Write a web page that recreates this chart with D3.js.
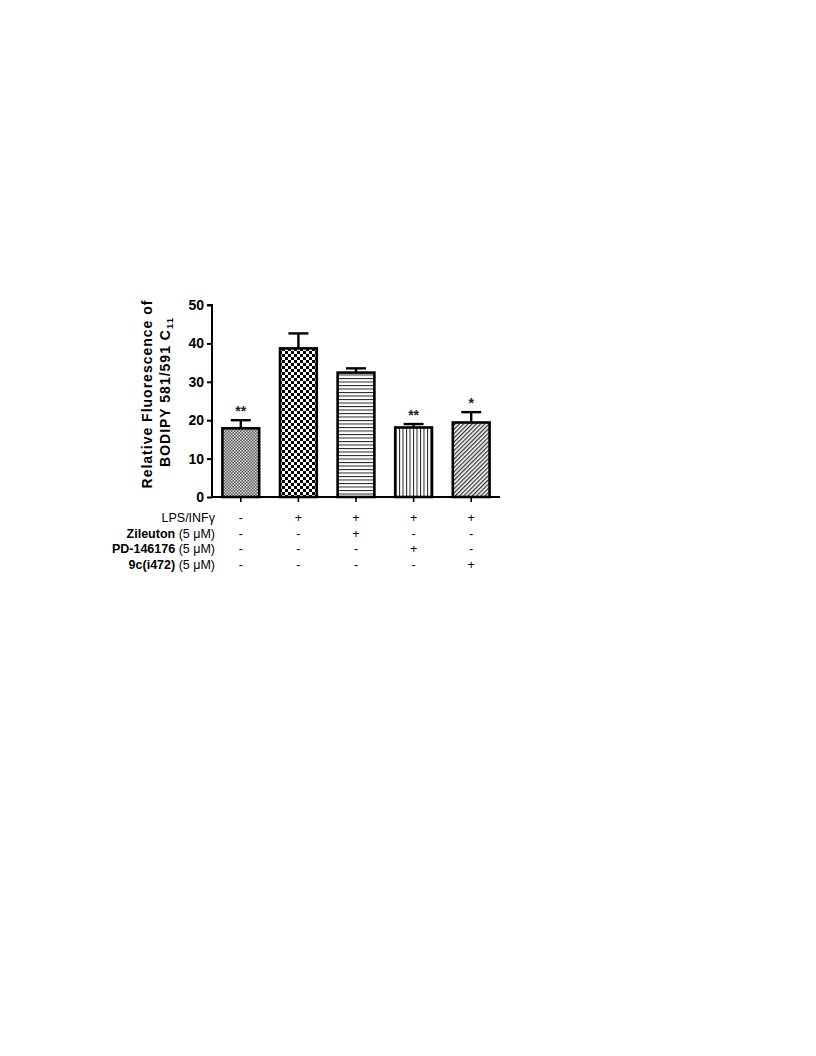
<!DOCTYPE html>
<html><head><meta charset="utf-8">
<script src="https://cdn.jsdelivr.net/npm/d3@7"></script>
<style>body{margin:0;background:#fff}svg{display:block}</style>
</head><body>
<script>
const groups = ["g1","g2","g3","g4","g5"];
const means = [17.9, 38.7, 32.4, 18.1, 19.4];
const errors = [2.1, 3.9, 1.1, 0.9, 2.7];
const stars = ["**", "", "", "**", "*"];
const yTicks = [0, 10, 20, 30, 40, 50];
const rowLabels = [
  {bold:"", normal:"LPS/INFγ"},
  {bold:"Zileuton", normal:" (5 μM)"},
  {bold:"PD-146176", normal:" (5 μM)"},
  {bold:"9c(i472)", normal:" (5 μM)"}
];
const signs = [
  ["-","+","+","+","+"],
  ["-","-","+","-","-"],
  ["-","-","-","+","-"],
  ["-","-","-","-","+"]
];
const patternIds = ["pFineCheck","pCheck","pHoriz","pVert","pDiag"];
const FONT = "Liberation Sans, Arial, sans-serif";

const svg = d3.select("body").append("svg").attr("width",816).attr("height",1056);
const defs = svg.append("defs");
let p = defs.append("pattern").attr("id","pFineCheck").attr("patternUnits","userSpaceOnUse").attr("width",3).attr("height",3);
p.append("rect").attr("width",3).attr("height",3).attr("fill","#555");
p.append("rect").attr("width",1.5).attr("height",1.5).attr("fill","#ddd");
p.append("rect").attr("x",1.5).attr("y",1.5).attr("width",1.5).attr("height",1.5).attr("fill","#ddd");
p = defs.append("pattern").attr("id","pCheck").attr("patternUnits","userSpaceOnUse").attr("width",6).attr("height",6);
p.append("rect").attr("width",6).attr("height",6).attr("fill","#fff");
p.append("rect").attr("width",3).attr("height",3).attr("fill","#000");
p.append("rect").attr("x",3).attr("y",3).attr("width",3).attr("height",3).attr("fill","#000");
p = defs.append("pattern").attr("id","pHoriz").attr("patternUnits","userSpaceOnUse").attr("width",4).attr("height",3.5);
p.append("rect").attr("width",4).attr("height",3.5).attr("fill","#fff");
p.append("rect").attr("width",4).attr("height",1).attr("fill","#222");
p = defs.append("pattern").attr("id","pVert").attr("patternUnits","userSpaceOnUse").attr("width",3.5).attr("height",4);
p.append("rect").attr("width",3.5).attr("height",4).attr("fill","#fff");
p.append("rect").attr("width",1).attr("height",4).attr("fill","#222");
p = defs.append("pattern").attr("id","pDiag").attr("patternUnits","userSpaceOnUse").attr("width",3).attr("height",3).attr("patternTransform","rotate(45)");
p.append("rect").attr("width",3).attr("height",3).attr("fill","#fff");
p.append("rect").attr("width",1.3).attr("height",3).attr("fill","#333");

const x = d3.scaleBand().domain(groups).range([212,500]).paddingInner(0.32).paddingOuter(0.16);
const y = d3.scaleLinear().domain([0,50]).range([497,305]);

const g = svg.append("g");
g.selectAll("rect.bar").data(groups).join("rect")
  .attr("x",d=>x(d)+1.2).attr("width",x.bandwidth()-2.4)
  .attr("y",(d,i)=>y(means[i])).attr("height",(d,i)=>y(0)-y(means[i]))
  .attr("fill",(d,i)=>`url(#${patternIds[i]})`).attr("stroke","#000").attr("stroke-width",2.6);
groups.forEach((d,i)=>{
  const cx = x(d)+x.bandwidth()/2;
  g.append("line").attr("x1",cx).attr("x2",cx).attr("y1",y(means[i])).attr("y2",y(means[i]+errors[i])).attr("stroke","#000").attr("stroke-width",2.4);
  g.append("line").attr("x1",cx-10).attr("x2",cx+10).attr("y1",y(means[i]+errors[i])).attr("y2",y(means[i]+errors[i])).attr("stroke","#000").attr("stroke-width",2.4);
  if(stars[i]) g.append("text").attr("x",cx).attr("y",y(means[i]+errors[i])-4).attr("text-anchor","middle")
    .attr("font-family",FONT).attr("font-size",14).attr("font-weight","bold").attr("fill","#222").text(stars[i]);
});

const yAxis = svg.append("g").attr("transform","translate(212,0)")
  .call(d3.axisLeft(y).tickValues(yTicks).tickSize(5).tickPadding(3));
yAxis.select(".domain").attr("stroke","#000").attr("stroke-width",2).attr("d","M-5,305H0V497");
yAxis.selectAll(".tick line").attr("stroke","#000").attr("stroke-width",2);
yAxis.selectAll("text").attr("font-family",FONT).attr("font-size",14).attr("font-weight","bold").attr("fill","#000");

const xAxis = svg.append("g").attr("transform","translate(0,497)")
  .call(d3.axisBottom(x).tickSize(5).tickFormat(""));
xAxis.select(".domain").attr("stroke","#000").attr("stroke-width",2).attr("d","M212,0H500");
xAxis.selectAll(".tick line").attr("stroke","#000").attr("stroke-width",1.6);

svg.append("text").attr("transform","translate(152,394) rotate(-90)")
  .attr("font-family",FONT).attr("font-size",14).attr("font-weight","bold").attr("text-anchor","middle")
  .attr("letter-spacing",1).text("Relative Fluorescence of");
const t2 = svg.append("text").attr("transform","translate(170,392) rotate(-90)")
  .attr("font-family",FONT).attr("font-size",14).attr("font-weight","bold").attr("text-anchor","middle")
  .attr("letter-spacing",1);
t2.append("tspan").text("BODIPY 581/591 C");
t2.append("tspan").attr("font-size",9.5).attr("dy",3).text("11");

const rowY = [518, 533.5, 549, 565];
rowLabels.forEach((r,ri)=>{
  const t = svg.append("text").attr("x",215).attr("y",rowY[ri]).attr("dy","0.35em").attr("text-anchor","end")
    .attr("font-family",FONT).attr("font-size",12.5);
  if(r.bold) t.append("tspan").attr("font-weight","bold").text(r.bold);
  t.append("tspan").text(r.normal);
  groups.forEach((d,gi)=>{
    svg.append("text").attr("x",x(d)+x.bandwidth()/2).attr("y",rowY[ri]).attr("dy","0.35em").attr("text-anchor","middle")
      .attr("font-family",FONT).attr("font-size",12.5).text(signs[ri][gi]);
  });
});
</script>
</body></html>
